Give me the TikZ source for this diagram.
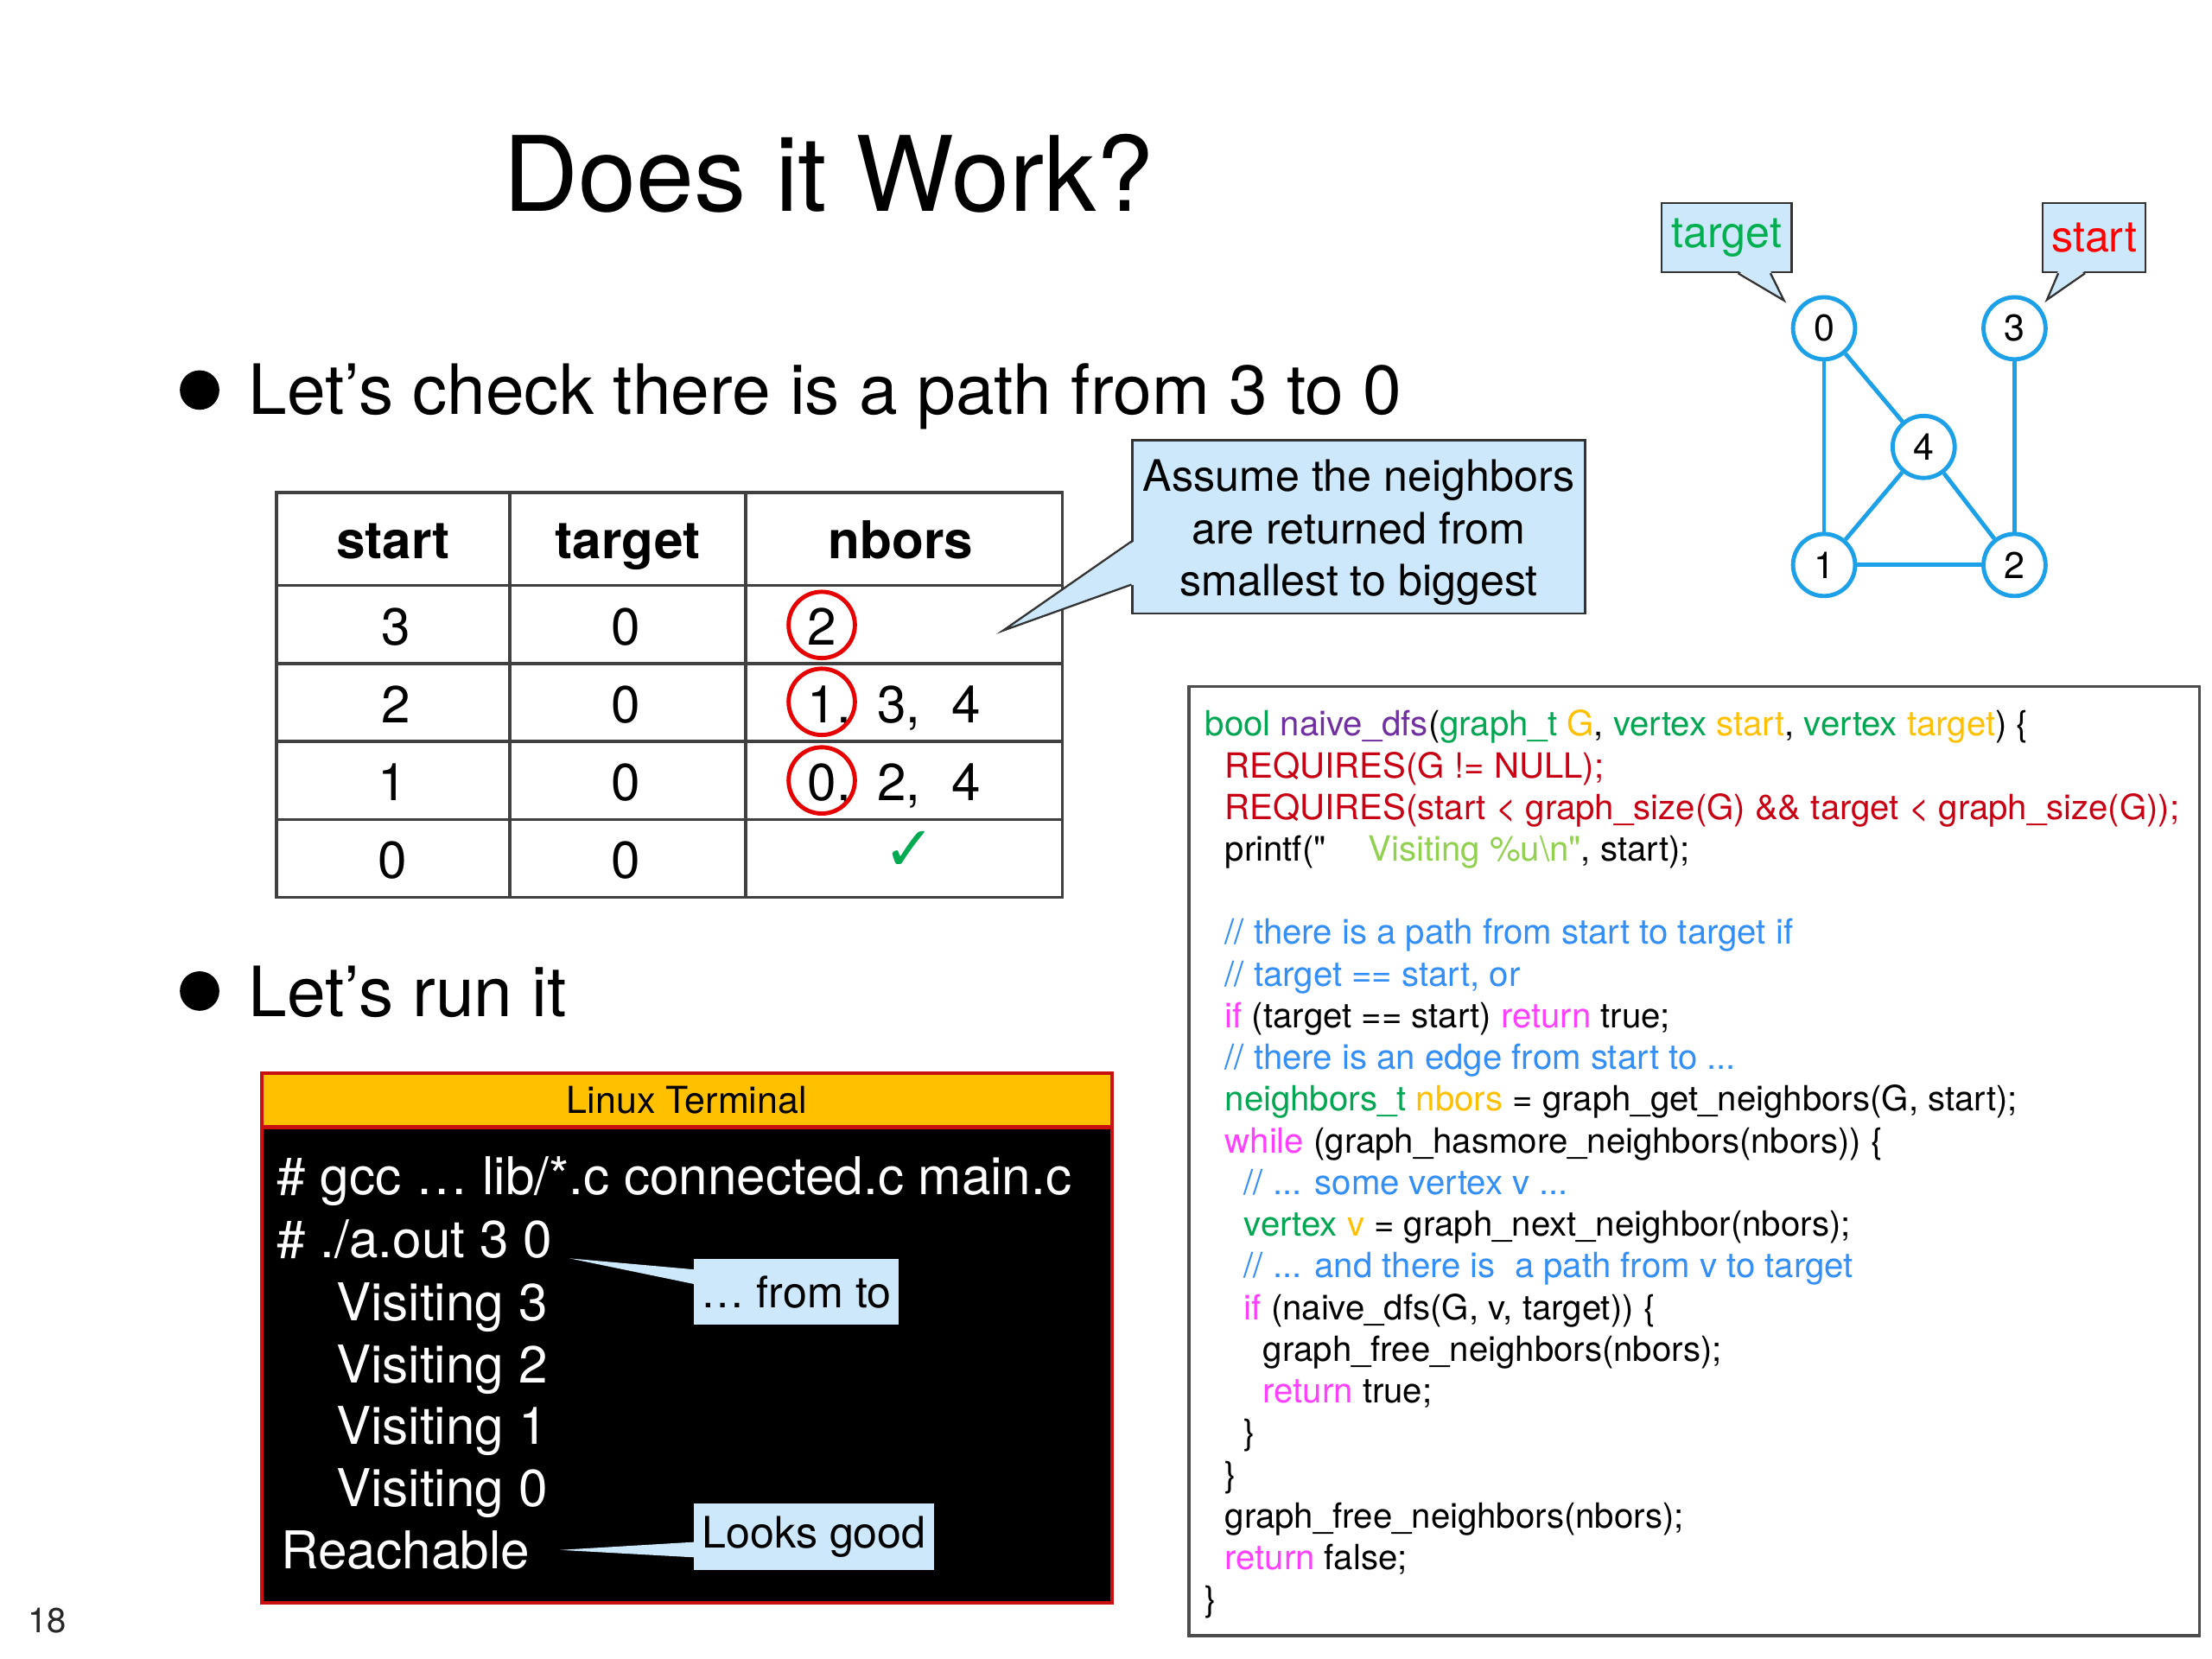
\documentclass[tikz,border=0pt]{standalone}
\usepackage{fontspec}
\setmainfont{TeX Gyre Heros}
\newfontfamily\symfont{DejaVu Sans}
\usetikzlibrary{calc}

\definecolor{callfill}{RGB}{204,232,250}
\definecolor{vblue}{RGB}{28,160,232}
\definecolor{termyellow}{RGB}{255,192,0}
\definecolor{termred}{RGB}{200,16,16}
\definecolor{tgreen}{RGB}{0,176,80}
\definecolor{sred}{RGB}{255,0,0}
\definecolor{ringred}{RGB}{230,0,0}
\definecolor{checkgreen}{RGB}{0,170,80}
\definecolor{cgreen}{RGB}{0,166,81}
\definecolor{cpurple}{RGB}{112,48,160}
\definecolor{cyellow}{RGB}{255,192,0}
\definecolor{cred}{RGB}{200,0,20}
\definecolor{clime}{RGB}{146,208,80}
\definecolor{cblue}{RGB}{51,142,246}
\definecolor{cmag}{RGB}{255,64,255}

\newcommand{\ctype}[1]{\textcolor{cgreen}{#1}}
\newcommand{\cvar}[1]{\textcolor{cyellow}{#1}}
\newcommand{\ckw}[1]{\textcolor{cmag}{#1}}
\newcommand{\ccom}[1]{\textcolor{cblue}{#1}}

\begin{document}
\begin{tikzpicture}[x=0.02cm,y=-0.02cm,
every node/.style = {
inner sep = 0pt,
text      = black},
txt/.style     = {anchor=base west},
cell/.style    = {anchor=base, font=\fontsize{21}{25}\selectfont},
hcell/.style   = {anchor=base, font=\fontsize{21}{25}\selectfont\bfseries},
tline/.style   = {black!75, line width=1.2pt},
ring/.style    = {circle, draw=ringred, line width=1.7pt, minimum size=0.94cm},
vtx/.style     = {circle, draw=vblue, line width=1.7pt, fill=white,
                  minimum size=0.88cm, font=\fontsize{15}{18}\selectfont},
edge/.style    = {vblue, line width=1.7pt},
callbox/.style = {fill=callfill, draw=black!80, line width=0.8pt,
                  align=center, font=\fontsize{17.5}{21}\selectfont},
tipbox/.style  = {fill=callfill, font=\fontsize{17.5}{21}\selectfont},
callline/.style= {black!80, line width=0.8pt, line join=miter},
termtxt/.style = {anchor=base west, text=white, font=\fontsize{21}{26}\selectfont},
code/.style    = {anchor=base west, font=\fontsize{14}{17}\selectfont}
]
\useasboundingbox (0,0) rectangle (1568,1176);
%
\node[anchor=base, font=\fontsize{42}{50}\selectfont] (title) at (587.5,149.5) {Does it Work?};
\fill (141.5,276.5) circle [radius=0.28cm];
\node[txt, font=\fontsize{28}{34}\selectfont] (pt1) at (176,293.6) {Let’s check there is a path from 3 to 0};
\fill (141.5,702.5) circle [radius=0.28cm];
\node[txt, font=\fontsize{28}{34}\selectfont] (pt2) at (176,720.6) {Let’s run it};
%
\draw[tline] (196,349) rectangle (753,636);
\foreach \ry in {414.8,470.5,525.6,580.8}
  \draw[tline] (196,\ry) -- (753,\ry);
\foreach \cx in {361.3,528.5}
  \draw[tline] (\cx,349) -- (\cx,636);
\node[hcell] (hstart) at (278.7,396) {start};
\node[hcell] (htarget) at (444.9,396) {target};
\node[hcell] (hnbors) at (638.5,396) {nbors};
\node[cell] (s3) at (280.5,457) {3};
\node[cell] (s2) at (280.5,512.3) {2};
\node[cell] (s1) at (278.5,567.5) {1};
\node[cell] (s0) at (278.5,622.7) {0};
\node[cell] (t3) at (443.5,457) {0};
\node[cell] (t2) at (443.5,512.3) {0};
\node[cell] (t1) at (443.5,567.5) {0};
\node[cell] (t0) at (443.5,622.7) {0};
\node[cell] (n3) at (582.5,457) {2};
\node[cell, anchor=base west] (n2) at (572.2,512.3) {1,\hspace{10.5pt}3,\hspace{12.5pt}4};
\node[cell, anchor=base west] (n1) at (572.2,567.5) {0,\hspace{10.5pt}2,\hspace{12.5pt}4};
\node[ring] (ring3) at (582.5,443) {};
\node[ring] (ring2) at (582.5,497.5) {};
\node[ring] (ring1) at (582.5,553.2) {};
\node[font=\symfont\fontsize{25}{28}\selectfont, text=checkgreen] (chk) at (644.5,603) {✓};
%
\node[callbox, minimum width=6.42cm, minimum height=2.46cm] (assume) at (963.2,373.5) {};
\node[align=center, font=\fontsize{17.5}{21}\selectfont] (assumetxt) at (963.2,377.5)
  {Assume the neighbors\\are returned from\\smallest to biggest};
\coordinate (asstip) at (711,447);
\fill[callfill] ($(assume.west |- 0,383.8)+(1pt,0)$) -- (asstip) -- ($(assume.west |- 0,414.4)+(1pt,0)$) -- cycle;
\draw[callline] (assume.west |- 0,383.8) -- (asstip) -- (assume.west |- 0,414.4);
%
\node[vtx] (v0) at (1293,232.7) {0};
\node[vtx] (v3) at (1428,232.7) {3};
\node[vtx] (v4) at (1363.6,316.8) {4};
\node[vtx] (v1) at (1293,400.5) {1};
\node[vtx] (v2) at (1428,400.5) {2};
\draw[edge] (v0) -- (v1);
\draw[edge] (v0) -- (v4);
\draw[edge] (v4) -- (v1);
\draw[edge] (v4) -- (v2);
\draw[edge] (v1) -- (v2);
\draw[edge] (v3) -- (v2);
\node[callbox, minimum width=1.84cm, minimum height=0.98cm, text=tgreen] (tgtlabel) at (1224,168.5) {target};
\coordinate (tgttip) at (1264.6,213);
\fill[callfill] ($(tgtlabel.south -| 1232,0)+(0,1pt)$) -- (tgttip) -- ($(tgtlabel.south -| 1255,0)+(0,1pt)$) -- cycle;
\draw[callline] (tgtlabel.south -| 1232,0) -- (tgttip) -- (tgtlabel.south -| 1255,0);
\node[callbox, minimum width=1.46cm, minimum height=0.98cm, text=sred] (srtlabel) at (1484.5,168.5) {start};
\coordinate (srttip) at (1451,212.5);
\fill[callfill] ($(srtlabel.south -| 1459,0)+(0,1pt)$) -- (srttip) -- ($(srtlabel.south -| 1478,0)+(0,1pt)$) -- cycle;
\draw[callline] (srtlabel.south -| 1459,0) -- (srttip) -- (srtlabel.south -| 1478,0);
%
\node[draw=termred, line width=1.4pt, fill=black, minimum width=12.05cm, minimum height=7.5cm] (term) at (486.8,948.5) {};
\node[draw=termred, line width=1.4pt, fill=termyellow, minimum width=12.05cm, minimum height=0.76cm,
  font=\fontsize{15}{18}\selectfont] (termhead) at (486.8,780) {Linux Terminal};
\node[termtxt] (l1) at (196,846.7) {\# gcc … lib/*.c connected.c main.c};
\node[termtxt] (l2) at (196,891.4) {\# ./a.out 3 0};
\node[termtxt] (l3) at (238,936) {Visiting 3};
\node[termtxt] (l4) at (238,980) {Visiting 2};
\node[termtxt] (l5) at (238,1024) {Visiting 1};
\node[termtxt] (l6) at (238,1068) {Visiting 0};
\node[termtxt] (l7) at (199,1112) {Reachable};
\node[tipbox, minimum width=2.9cm, minimum height=0.93cm] (fromto) at (564.5,915.8) {… from to};
\coordinate (fttip) at (403.7,892);
\fill[callfill] ($(fromto.west |- 0,900)+(1pt,0)$) -- (fttip) -- ($(fromto.west |- 0,910.5)+(1pt,0)$) -- cycle;
\node[tipbox, minimum width=3.4cm, minimum height=0.934cm] (good) at (577,1089.35) {Looks good};
\coordinate (gdtip) at (397,1098.7);
\fill[callfill] ($(good.west |- 0,1093)+(1pt,0)$) -- (gdtip) -- ($(good.west |- 0,1104)+(1pt,0)$) -- cycle;
%
\node[draw=black!70, line width=1.1pt, minimum width=14.33cm, minimum height=13.46cm] (codebox) at (1201,823) {};
\node[code] (c1) at (854,521.7) {\ctype{bool} \textcolor{cpurple}{naive\_dfs}(\ctype{graph\_t} \cvar{G}, \ctype{vertex} \cvar{start}, \ctype{vertex} \cvar{target}) \{};
\node[code, text=cred] (c2) at (868,551.25) {REQUIRES(G != NULL);};
\node[code, text=cred] (c3) at (868,580.8) {REQUIRES(start \textless{} graph\_size(G) \&\& target \textless{} graph\_size(G));};
\node[code] (c4) at (868,610.35) {printf(\textquotedbl\hspace{17pt}\textcolor{clime}{Visiting \%u\textbackslash n\textquotedbl}, start);};
\node[code] (c6) at (868,669.45) {\ccom{// there is a path from start to target if}};
\node[code] (c7) at (868,699.0) {\ccom{// target == start, or}};
\node[code] (c8) at (868,728.55) {\ckw{if} (target == start) \ckw{return} true;};
\node[code] (c9) at (868,758.1) {\ccom{// there is an edge from start to ...}};
\node[code] (c10) at (868,787.65) {\ctype{neighbors\_t} \cvar{nbors} = graph\_get\_neighbors(G, start);};
\node[code] (c11) at (868,817.2) {\ckw{while} (graph\_hasmore\_neighbors(nbors)) \{};
\node[code] (c12) at (881.5,846.75) {\ccom{// ... some vertex v ...}};
\node[code] (c13) at (881.5,876.3) {\ctype{vertex} \cvar{v} = graph\_next\_neighbor(nbors);};
\node[code] (c14) at (881.5,905.85) {\ccom{// ... and there is\ \ a path from v to target}};
\node[code] (c15) at (881.5,935.4) {\ckw{if} (naive\_dfs(G, v, target)) \{};
\node[code] (c16) at (895,964.95) {graph\_free\_neighbors(nbors);};
\node[code] (c17) at (895,994.5) {\ckw{return} true;};
\node[code] (c18) at (881.5,1024.05) {\}};
\node[code] (c19) at (868,1053.6) {\}};
\node[code] (c20) at (868,1083.15) {graph\_free\_neighbors(nbors);};
\node[code] (c21) at (868,1112.7) {\ckw{return} false;};
\node[code] (c22) at (854,1142.25) {\}};
%
\node[font=\fontsize{14}{17}\selectfont, text=black!85] (pagenum) at (33.4,1148.8) {18};
\end{tikzpicture}
\end{document}
